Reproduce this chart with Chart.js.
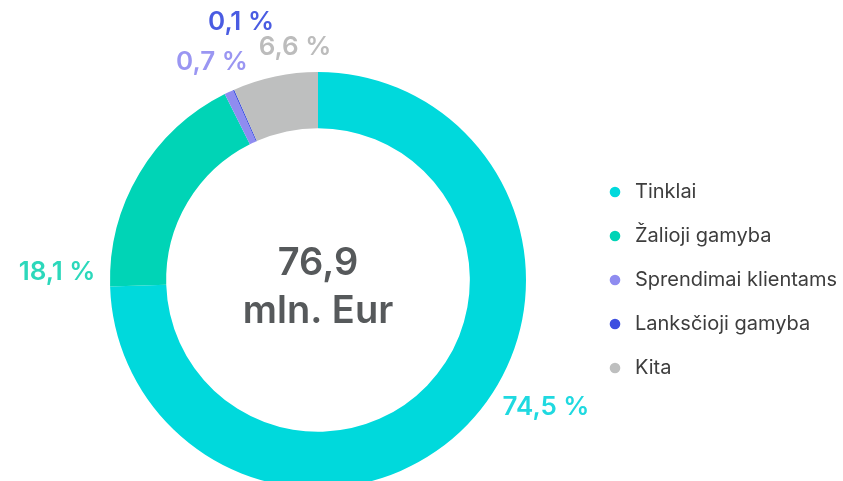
<!DOCTYPE html>
<html lang="lt">
<head>
<meta charset="utf-8">
<title>Pajamų struktūra</title>
<script src="https://cdn.jsdelivr.net/npm/chart.js@4.4.1/dist/chart.umd.min.js"></script>
<style>
  html, body { margin: 0; padding: 0; background: #ffffff; }
  #wrap { position: relative; width: 843px; height: 481px; overflow: hidden; }
  #chart { display: block; }
</style>
</head>
<body>
<div id="wrap"><canvas id="chart" width="843" height="560" style="width:843px;height:560px"></canvas></div>
<script>
// Segments of the total, in percent
const categories = ['Tinklai', 'Žalioji gamyba', 'Sprendimai klientams', 'Lanksčioji gamyba', 'Kita'];
const shares = [74.5, 18.1, 0.7, 0.1, 6.6];
const totalValue = 76.9;          // mln. Eur
const totalUnit = 'mln. Eur';

const sliceColors = ['#00d9dc', '#00d4b6', '#8f8cf0', '#3d4fe0', '#bebfbf'];
const labelColors = ['#1fd9e0', '#2cd8bb', '#9a96f2', '#4a5ce2', '#bcbcbc'];
// Where each percentage label sits, relative to the ring centre
const labelOffsets = [[228, 127], [-261, -8], [-106, -218], [-77, -258], [-23, -233]];

const fmt = v => v.toFixed(1).replace('.', ',');

// Legend geometry: the legend column should start at a fixed x
const legendFont = { family: 'Inter, "Noto Sans", sans-serif', size: 20, weight: '400' };
const legendBoxWidth = 20;
const legendPadding = 24;
const legendLeft = 581;
const canvasWidth = 843;

const measureCtx = document.createElement('canvas').getContext('2d');
measureCtx.font = legendFont.weight + ' ' + legendFont.size + 'px ' + legendFont.family;
const widestLabel = Math.max(...categories.map(c => measureCtx.measureText(c).width));
const legendWidth = legendPadding + legendBoxWidth + legendFont.size / 2 + widestLabel + 10;
const rightPad = canvasWidth - legendLeft - legendWidth;

const valueLabels = {
  id: 'valueLabels',
  afterDraw(chart) {
    const ctx = chart.ctx;
    const arc = chart.getDatasetMeta(0).data[0];
    const cx = arc.x, cy = arc.y;
    ctx.save();
    ctx.textAlign = 'center';
    ctx.textBaseline = 'middle';
    ctx.font = '600 26px Inter, "Noto Sans", sans-serif';
    shares.forEach((v, i) => {
      ctx.fillStyle = labelColors[i];
      ctx.fillText(fmt(v) + ' %', cx + labelOffsets[i][0], cy + labelOffsets[i][1]);
    });
    ctx.fillStyle = '#56595b';
    ctx.font = '600 38px Inter, "Noto Sans", sans-serif';
    ctx.textBaseline = 'alphabetic';
    ctx.fillText(fmt(totalValue), cx, cy - 5);
    ctx.fillText(totalUnit, cx, cy + 43);
    ctx.restore();
  }
};

new Chart(document.getElementById('chart'), {
  type: 'doughnut',
  data: {
    labels: categories,
    datasets: [{
      data: shares,
      backgroundColor: sliceColors,
      borderWidth: 0,
      hoverOffset: 0
    }]
  },
  options: {
    responsive: false,
    animation: false,
    devicePixelRatio: 1,
    cutout: '73%',
    layout: { padding: { left: 55, top: 72, bottom: 72, right: rightPad } },
    plugins: {
      tooltip: { enabled: false },
      legend: {
        position: 'right',
        labels: {
          usePointStyle: true,
          pointStyle: 'circle',
          boxWidth: legendBoxWidth,
          boxHeight: 7.5,
          padding: legendPadding,
          color: '#3d3d3d',
          font: legendFont
        }
      }
    }
  },
  plugins: [valueLabels]
});
</script>
</body>
</html>
